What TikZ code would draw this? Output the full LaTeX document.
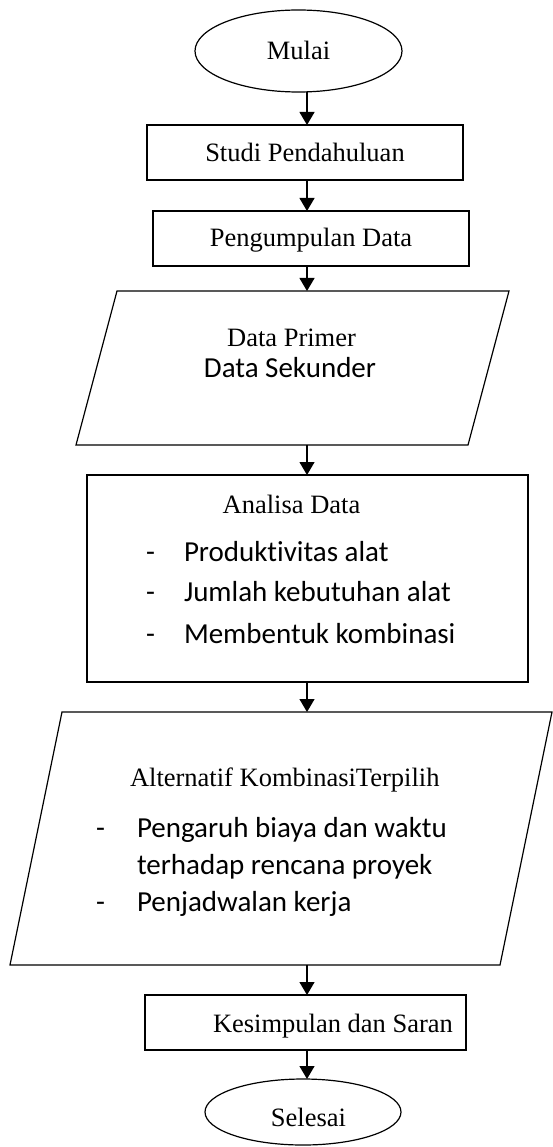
\documentclass[tikz,border=0pt]{standalone}
\usepackage{fontspec}
\setmainfont{Liberation Serif}
\newfontfamily\calfont[RawFeature={-liga;-clig;-dlig}]{Carlito}
\usetikzlibrary{shapes.geometric,arrows.meta}
\tikzset{
  shp/.style={inner sep=0pt, outer sep=0pt, line width=1.2pt},
  ell/.style={shp, ellipse, draw},
  box/.style={shp, rectangle, draw},
  frame/.style={shp, rectangle, draw=none},
  outline/.style={line width=1.2pt, line join=miter},
  arr/.style={line width=1.2pt, -{Triangle[width=15pt,length=13pt]}},
  ser/.style={inner sep=0pt, outer sep=0pt, font=\fontsize{26.5}{30}\selectfont},
  cal/.style={inner sep=0pt, outer sep=0pt, font=\calfont\fontsize{29}{33}\selectfont},
}
\begin{document}
\begin{tikzpicture}[x=1pt,y=-1pt]
\useasboundingbox (0,0) rectangle (553,1147);
\coordinate (ax) at (307,0);
% shapes
\node[ell, minimum width=207pt, minimum height=82pt] (mulai) at (298.5,51) {};
\node[box, minimum width=316pt, minimum height=55pt] (studi) at (305,152.5) {};
\node[box, minimum width=316pt, minimum height=55pt] (kumpul) at (311,238.5) {};
\node[frame, minimum width=433pt, minimum height=154pt] (p1) at (292.5,368) {};
\draw[outline] ([xshift=41pt]p1.north west) -- (p1.north east) -- ([xshift=-41pt]p1.south east) -- (p1.south west) -- cycle;
\node[box, minimum width=441pt, minimum height=207pt] (analisa) at (307.5,578.5) {};
\node[frame, minimum width=542pt, minimum height=253pt] (p2) at (281,838.5) {};
\draw[outline] ([xshift=52pt]p2.north west) -- (p2.north east) -- ([xshift=-52pt]p2.south east) -- (p2.south west) -- cycle;
\node[box, minimum width=321pt, minimum height=55pt] (kes) at (305.5,1022.5) {};
\node[ell, minimum width=196pt, minimum height=66pt] (selesai) at (303,1112) {};
% arrows
\draw[arr] (mulai.south -| ax) -- (studi.north -| ax);
\draw[arr] (studi.south -| ax) -- (kumpul.north -| ax);
\draw[arr] (kumpul.south -| ax) -- (p1.north -| ax);
\draw[arr] (p1.south -| ax) -- (analisa.north -| ax);
\draw[arr] (analisa.south -| ax) -- (p2.north -| ax);
\draw[arr] (p2.south -| ax) -- (kes.north -| ax);
\draw[arr] (kes.south -| ax) -- (selesai.north -| ax);
% texts
\node[ser, anchor=base] (t1) at (298.5,60) {Mulai};
\node[ser, anchor=base] (t2) at (305,162) {Studi Pendahuluan};
\node[ser, anchor=base] (t3) at (311,247) {Pengumpulan Data};
\node[ser, anchor=base] (t4) at (291.5,346) {Data Primer};
\node[cal, anchor=base] (t5) at (290,377) {Data Sekunder};
\node[ser, anchor=base] (t6) at (291.5,513) {Analisa Data};
\node[cal, anchor=base west] (d1) at (146,561) {-};
\node[cal, anchor=base west] (d2) at (146,601) {-};
\node[cal, anchor=base west] (d3) at (146,643) {-};
\node[cal, anchor=base west] (t7) at (184,561) {Produktivitas alat};
\node[cal, anchor=base west] (t8) at (184,601) {Jumlah kebutuhan alat};
\node[cal, anchor=base west] (t9) at (184,643) {Membentuk kombinasi};
\node[ser, anchor=base west] (t10) at (130,786) {Alternatif KombinasiTerpilih};
\node[cal, anchor=base west] (d4) at (96,837) {-};
\node[cal, anchor=base west] (d5) at (96,911) {-};
\node[cal, anchor=base west] (t11) at (137,837) {Pengaruh biaya dan waktu};
\node[cal, anchor=base west] (t12) at (137,874) {terhadap rencana proyek};
\node[cal, anchor=base west] (t13) at (137,911) {Penjadwalan kerja};
\node[ser, anchor=base west] (t14) at (213,1032) {Kesimpulan dan Saran};
\node[ser, anchor=base] (t15) at (308.5,1126) {Selesai};
\end{tikzpicture}
\end{document}
